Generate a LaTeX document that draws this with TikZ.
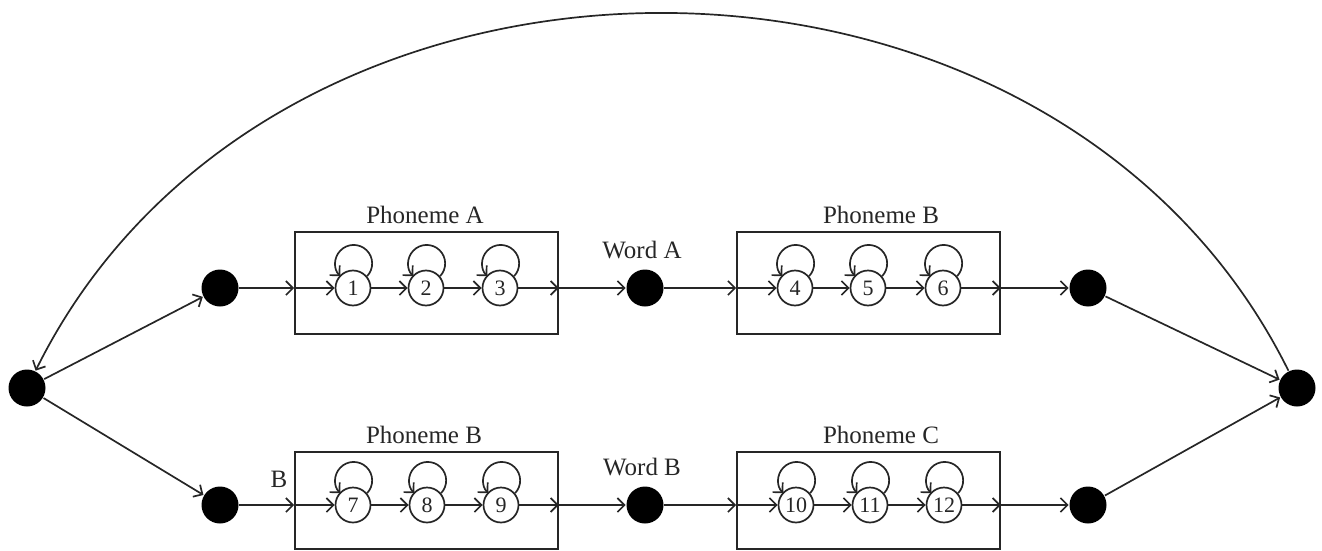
\documentclass[tikz,border=0pt]{standalone}
\usepackage{fontspec}
\setmainfont{Liberation Serif}
\usetikzlibrary{arrows.meta}
\begin{document}
\begin{tikzpicture}[x=1pt,y=-1pt,
  line width=1.7pt,
  color=black!85,
  arr/.style={-{Straight Barb[length=7pt,width=14pt,line width=1.7pt]}},
  dot/.style={circle,fill=black,draw=none,minimum size=37pt,inner sep=0pt},
  st/.style={circle,draw,fill=white,minimum size=35pt,inner sep=0pt,font=\fontsize{22}{22}\selectfont},
  pbox/.style={draw,rectangle,inner sep=0pt,minimum width=263pt},
  lab/.style={anchor=base,inner sep=0pt,font=\fontsize{25}{25}\selectfont},
  selfloop/.style={arr},
]
\useasboundingbox (0,0) rectangle (1322,551);

% boxes
\node[pbox,minimum height=102pt] (bA) at (426.5,283) {};
\node[pbox,minimum height=102pt] (bB) at (868.5,283) {};
\node[pbox,minimum height=97pt] (bC) at (426.5,500.5) {};
\node[pbox,minimum height=97pt] (bD) at (868.5,500.5) {};

% labels
\node[lab] (lA) at (425,223) {Phoneme A};
\node[lab] (lB) at (881,223) {Phoneme B};
\node[lab] (lC) at (424,443) {Phoneme B};
\node[lab] (lD) at (881,443) {Phoneme C};
\node[lab] (wAl) at (642,258) {Word A};
\node[lab] (wBl) at (642,475) {Word B};
\node[lab] (bl) at (279,487) {B};

% black nodes
\node[dot] (L) at (27,388) {};
\node[dot] (R) at (1297,388) {};
\node[dot] (d1) at (220,288) {};
\node[dot] (wA) at (645,288) {};
\node[dot] (d2) at (1088,288) {};
\node[dot] (d3) at (220,505) {};
\node[dot] (wB) at (645,505) {};
\node[dot] (d4) at (1088,505) {};

% states
\node[st] (s1) at (353,288) {1};
\node[st] (s2) at (426,288) {2};
\node[st] (s3) at (500,288) {3};
\node[st] (s4) at (795,288) {4};
\node[st] (s5) at (868,288) {5};
\node[st] (s6) at (943,288) {6};
\node[st] (s7) at (353,505) {7};
\node[st] (s8) at (427,505) {8};
\node[st] (s9) at (501,505) {9};
\node[st] (s10) at (796,505) {10};
\node[st] (s11) at (870,505) {11};
\node[st] (s12) at (944,505) {12};

% box ports
\coordinate (aIn) at (bA.west |- d1);
\coordinate (aOut) at (bA.east |- d1);
\coordinate (bIn) at (bB.west |- d1);
\coordinate (bOut) at (bB.east |- d1);
\coordinate (cIn) at (bC.west |- d3);
\coordinate (cOut) at (bC.east |- d3);
\coordinate (dIn) at (bD.west |- d3);
\coordinate (dOut) at (bD.east |- d3);

% top row
\draw[arr] (d1) -- (aIn);
\draw[arr] (aIn) -- (s1);
\draw[arr] (s1) -- (s2);
\draw[arr] (s2) -- (s3);
\draw[arr] (s3) -- (aOut);
\draw[arr] (aOut) -- (wA);
\draw[arr] (wA) -- (bIn);
\draw[arr] (bIn) -- (s4);
\draw[arr] (s4) -- (s5);
\draw[arr] (s5) -- (s6);
\draw[arr] (s6) -- (bOut);
\draw[arr] (bOut) -- (d2);

% bottom row
\draw[arr] (d3) -- (cIn);
\draw[arr] (cIn) -- (s7);
\draw[arr] (s7) -- (s8);
\draw[arr] (s8) -- (s9);
\draw[arr] (s9) -- (cOut);
\draw[arr] (cOut) -- (wB);
\draw[arr] (wB) -- (dIn);
\draw[arr] (dIn) -- (s10);
\draw[arr] (s10) -- (s11);
\draw[arr] (s11) -- (s12);
\draw[arr] (s12) -- (dOut);
\draw[arr] (dOut) -- (d4);

% self loops
\foreach \s in {s1,s2,s3,s4,s5,s6,s7,s8,s9,s10,s11,s12}
  \draw[selfloop] (\s.40) arc[start angle=-43.6,end angle=223.6,radius=18.5pt];

% fan in / out
\draw[arr] (L) -- (d1);
\draw[arr] (L) -- (d3);
\draw[arr] (d2) -- (R);
\draw[arr] (d4) -- (R);

% big arc
\draw[arr] (R) .. controls (1052,-106) and (272,-106) .. (L);
\end{tikzpicture}
\end{document}
